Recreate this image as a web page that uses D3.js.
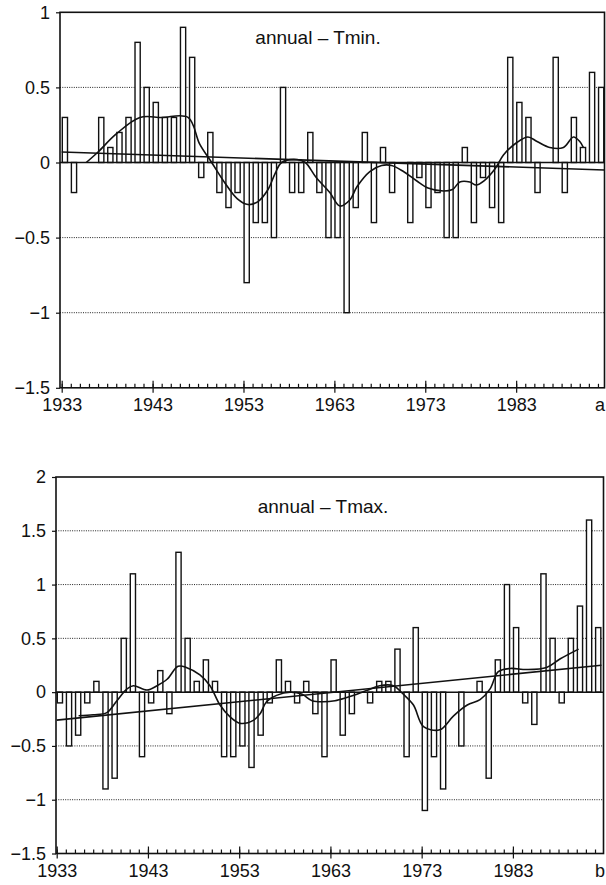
<!DOCTYPE html>
<html>
<head>
<meta charset="utf-8">
<script src="https://cdn.jsdelivr.net/npm/d3@7/dist/d3.min.js"></script>
<style>
  body { margin: 0; background: #fff; }
  svg { display: block; }
  svg text { font-family: "Liberation Sans", Arial, sans-serif; fill: #111; }
  .axis path { display: none; }
  .axis line { stroke: #111; stroke-width: 1.2; }
</style>
</head>
<body>
<div id="chart"></div>
<script>

/*****************************************/
/*   DATA                                */
/*****************************************/

let years = [1933, 1934, 1935, 1936, 1937, 1938, 1939, 1940, 1941, 1942,
             1943, 1944, 1945, 1946, 1947, 1948, 1949, 1950, 1951, 1952,
             1953, 1954, 1955, 1956, 1957, 1958, 1959, 1960, 1961, 1962,
             1963, 1964, 1965, 1966, 1967, 1968, 1969, 1970, 1971, 1972,
             1973, 1974, 1975, 1976, 1977, 1978, 1979, 1980, 1981, 1982,
             1983, 1984, 1985, 1986, 1987, 1988, 1989, 1990, 1991, 1992];

// annual Tmin anomalies
let tminValues = [0.3, -0.2, 0, 0, 0.3, 0.1, 0.2, 0.3, 0.8, 0.5,
                  0.4, 0.3, 0.3, 0.9, 0.7, -0.1, 0.2, -0.2, -0.3, -0.2,
                  -0.8, -0.4, -0.4, -0.5, 0.5, -0.2, -0.2, 0.2, -0.2, -0.5,
                  -0.5, -1.0, -0.3, 0.2, -0.4, 0.1, -0.2, 0, -0.4, -0.1,
                  -0.3, -0.2, -0.5, -0.5, 0.1, -0.4, -0.1, -0.3, -0.4, 0.7,
                  0.4, 0.3, -0.2, 0, 0.7, -0.2, 0.3, 0.1, 0.6, 0.5];

// annual Tmax anomalies
let tmaxValues = [-0.1, -0.5, -0.4, -0.1, 0.1, -0.9, -0.8, 0.5, 1.1, -0.6,
                  -0.1, 0.2, -0.2, 1.3, 0.5, 0.1, 0.3, 0.1, -0.6, -0.6,
                  -0.5, -0.7, -0.4, -0.1, 0.3, 0.1, -0.1, 0.1, -0.2, -0.6,
                  0.3, -0.4, -0.2, 0, -0.1, 0.1, 0.1, 0.4, -0.6, 0.6,
                  -1.1, -0.6, -0.9, 0, -0.5, 0, 0.1, -0.8, 0.3, 1.0,
                  0.6, -0.1, -0.3, 1.1, 0.5, -0.1, 0.5, 0.8, 1.6, 0.6];

// smoothed curves
let tminSmoothYears = [1935.7, 1937, 1939, 1941.6, 1944, 1946.9, 1948.2, 1949.5, 1951, 1952.3,
                       1953.5, 1954.6, 1955.7, 1956.5, 1957.2, 1958.9, 1959.8, 1961, 1962.5, 1963.6,
                       1964.7, 1965.5, 1966.9, 1968.2, 1969.3, 1970.6, 1972, 1973.3, 1975, 1976,
                       1976.8, 1977.9, 1978.6, 1979.5, 1980.7, 1981.6, 1983, 1984.3, 1985.3, 1986.7,
                       1988.2, 1989.3, 1990, 1990.4];
let tminSmoothValues = [0, 0.07, 0.19, 0.3, 0.3, 0.3, 0.12, 0, -0.14, -0.24,
                        -0.28, -0.26, -0.18, -0.07, 0, 0.02, 0, -0.1, -0.2, -0.29,
                        -0.25, -0.16, -0.06, -0.02, -0.02, -0.06, -0.12, -0.17, -0.19, -0.18,
                        -0.13, -0.13, -0.15, -0.12, -0.04, 0.05, 0.13, 0.17, 0.14, 0.1,
                        0.1, 0.17, 0.14, 0.1];

let tmaxSmoothYears = [1935.4, 1937, 1938.5, 1939.6, 1940.7, 1941.4, 1942.9, 1944, 1945.1, 1946.3,
                       1947.2, 1948.7, 1949.8, 1950.9, 1952, 1953.1, 1954.6, 1955.3, 1956, 1957.1,
                       1958.6, 1959.9, 1961, 1962.2, 1963.5, 1964.8, 1965.9, 1967.4, 1968.4, 1969.9,
                       1971, 1972.1, 1973.2, 1975, 1976.5, 1978, 1979.4, 1980.5, 1981.4, 1982.7,
                       1984.5, 1986.7, 1988.2, 1990.2];
let tmaxSmoothValues = [-0.22, -0.21, -0.19, -0.08, 0.03, 0.06, 0.02, 0.06, 0.12, 0.24,
                        0.23, 0.16, 0.06, -0.12, -0.23, -0.29, -0.26, -0.2, -0.09, -0.03,
                        0, -0.02, -0.08, -0.09, -0.08, -0.05, -0.02, 0.03, 0.06, 0.06,
                        -0.02, -0.12, -0.32, -0.35, -0.22, -0.12, -0.07, 0.03, 0.19, 0.22,
                        0.21, 0.23, 0.31, 0.4];

// linear trends
let trendYears = [1933, 1992.7];
let tminTrend = [0.07, -0.05];
let tmaxTrend = [-0.26, 0.25];

// tick labels
let majorYears = [1933, 1943, 1953, 1963, 1973, 1983];
let tminTicks = [1, 0.5, 0, -0.5, -1, -1.5];
let tmaxTicks = [2, 1.5, 1, 0.5, 0, -0.5, -1, -1.5];


/*****************************************/
/*   CHART AREA                          */
/*****************************************/

let svg = d3.select("#chart").append("svg")
    .attr("width", 606)
    .attr("height", 885);

let fmt = d => (d < 0 ? "\u2212" : "") + Math.abs(d);

let panels = [
    {
        values: tminValues, smoothYears: tminSmoothYears, smoothValues: tminSmoothValues,
        trend: tminTrend, ticks: tminTicks, yDomain: [-1.5, 1],
        left: 60, right: 604.5, top: 12.3, bottom: 387.8,
        xStart: 61.7, xEndYear: 1992.72,
        title: "annual \u2013 Tmin.", titleX: 318, titleY: 44,
        corner: "a", labelBase: 411
    },
    {
        values: tmaxValues, smoothYears: tmaxSmoothYears, smoothValues: tmaxSmoothValues,
        trend: tmaxTrend, ticks: tmaxTicks, yDomain: [-1.5, 2],
        left: 56, right: 603.5, top: 477, bottom: 853.5,
        xStart: 56.7, xEndYear: 1992.93,
        title: "annual \u2013 Tmax.", titleX: 323, titleY: 513,
        corner: "b", labelBase: 877
    }
];

panels.forEach(p => drawPanel(p));


function drawPanel(p) {

    let g = svg.append("g");

    let x = d3.scaleLinear()
        .domain([1933, p.xEndYear])
        .range([p.xStart, p.right]);

    let y = d3.scaleLinear()
        .domain(p.yDomain)
        .range([p.bottom, p.top]);

    // ---- GRID (dotted) ----
    g.selectAll(".grid")
        .data(p.ticks.filter(t => t !== 0 && t !== p.yDomain[0] && t !== p.yDomain[1]))
        .enter()
        .append("line")
        .attr("class", "grid")
        .attr("x1", p.left)
        .attr("x2", p.right)
        .attr("y1", d => y(d))
        .attr("y2", d => y(d))
        .attr("stroke", "#222")
        .attr("stroke-width", 1)
        .attr("stroke-dasharray", "1,1.3");

    // ---- BARS ----
    let data = years.map((yr, i) => ({year: yr, value: p.values[i]}))
        .filter(d => d.value !== 0);

    g.selectAll(".bar")
        .data(data)
        .enter()
        .append("rect")
        .attr("class", "bar")
        .attr("x", d => x(d.year) + 0.6)
        .attr("y", d => Math.min(y(d.value), y(0)))
        .attr("width", 5.2)
        .attr("height", d => Math.abs(y(d.value) - y(0)))
        .attr("fill", "#fff")
        .attr("stroke", "#111")
        .attr("stroke-width", 1.4);

    // ---- ZERO LINE ----
    g.append("line")
        .attr("x1", p.left).attr("x2", p.right)
        .attr("y1", y(0)).attr("y2", y(0))
        .attr("stroke", "#111")
        .attr("stroke-width", 1.5);

    // ---- TREND + SMOOTH ----
    let line = d3.line()
        .x(d => x(d[0]))
        .y(d => y(d[1]));

    g.append("path")
        .datum(trendYears.map((yr, i) => [yr, p.trend[i]]))
        .attr("d", line)
        .attr("fill", "none")
        .attr("stroke", "#111")
        .attr("stroke-width", 1.6);

    g.append("path")
        .datum(p.smoothYears.map((yr, i) => [yr, p.smoothValues[i]]))
        .attr("d", line.curve(d3.curveCatmullRom.alpha(0.5)))
        .attr("fill", "none")
        .attr("stroke", "#111")
        .attr("stroke-width", 1.6);

    // ---- FRAME ----
    g.append("rect")
        .attr("x", p.left)
        .attr("y", p.top)
        .attr("width", p.right - p.left)
        .attr("height", p.bottom - p.top)
        .attr("fill", "none")
        .attr("stroke", "#111")
        .attr("stroke-width", 1.6);

    // ---- AXES ----
    let yAxis = d3.axisLeft(y)
        .tickValues(p.ticks)
        .tickSize(4)
        .tickPadding(6)
        .tickFormat(fmt);

    g.append("g")
        .attr("class", "axis")
        .attr("transform", "translate(" + p.left + ",0)")
        .call(yAxis)
        .selectAll("text")
        .attr("font-size", 18);

    // minor ticks every year, pointing up
    g.append("g")
        .attr("class", "axis")
        .attr("transform", "translate(0," + p.bottom + ")")
        .call(d3.axisTop(x).tickValues(years).tickSize(4).tickFormat(""));

    // major ticks, crossing the axis
    g.append("g")
        .attr("class", "axis")
        .attr("transform", "translate(0," + p.bottom + ")")
        .call(d3.axisTop(x).tickValues(majorYears).tickSize(7).tickFormat(""));

    // year labels: baseline = bottom + tickSize + padding + 0.71em
    let pad = p.labelBase - p.bottom - 5 - 12.8;

    g.append("g")
        .attr("class", "axis")
        .attr("transform", "translate(0," + p.bottom + ")")
        .call(d3.axisBottom(x).tickValues(majorYears).tickSize(5).tickPadding(pad).tickFormat(d3.format("d")))
        .selectAll("text")
        .attr("font-size", 18);

    g.append("text")
        .attr("x", 600)
        .attr("y", p.labelBase)
        .attr("text-anchor", "middle")
        .attr("font-size", 18)
        .text(p.corner);

    // ---- TITLE ----
    g.append("text")
        .attr("x", p.titleX)
        .attr("y", p.titleY)
        .attr("text-anchor", "middle")
        .attr("font-size", 19)
        .text(p.title);
}

</script>
</body>
</html>
